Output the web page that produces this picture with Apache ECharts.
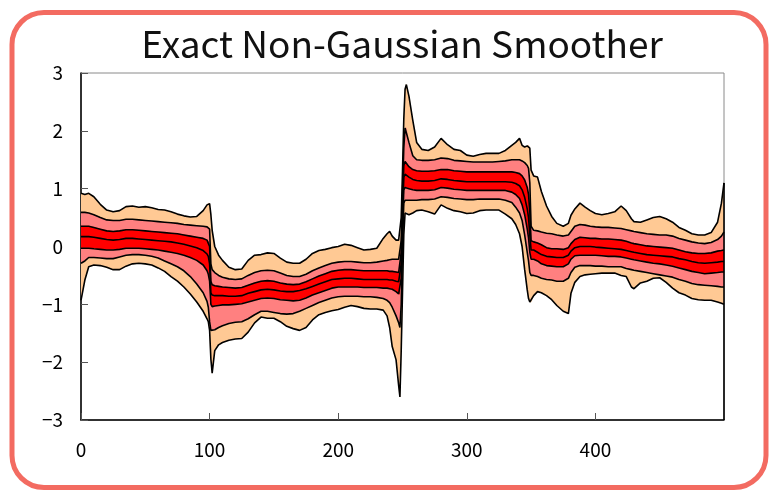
<!DOCTYPE html>
<html><head><meta charset="utf-8">
<script src="https://cdn.jsdelivr.net/npm/echarts@6/dist/echarts.min.js"></script>
<style>html,body{margin:0;padding:0;background:#fff}#c{width:770px;height:492px}</style>
</head><body><div id="c"></div>
<script>
const chartTitle = 'Exact Non-Gaussian Smoother';
const xTicks = [0, 100, 200, 300, 400, 500];
const yTicks = [-3, -2, -1, 0, 1, 2, 3];

const xs = [
  0,3,6,10,15,20,25,30,35,40,
  45,50,55,60,65,70,75,80,85,90,
  95,98,99,100,101,102,104,107,110,115,
  120,125,130,135,140,145,150,155,160,165,
  170,175,180,185,190,195,200,205,210,215,
  220,225,230,235,238,240,242,245,247,248,
  249,250,251,252,253,255,258,261,265,270,
  275,280,285,290,295,300,305,310,315,320,
  325,330,335,338,341,343,345,347,348,349,
  350,352,355,358,362,366,370,375,379,381,
  384,388,392,396,400,405,410,415,420,424,
  428,430,435,440,445,450,455,460,465,470,
  475,480,485,490,495,498,500];

const outerTop = [
  0.92,0.90,0.92,0.86,0.73,0.63,0.60,0.62,0.69,0.70,
  0.68,0.69,0.67,0.64,0.63,0.60,0.56,0.53,0.51,0.52,
  0.62,0.72,0.75,0.74,0.55,0.28,0.00,-0.15,-0.24,-0.36,
  -0.40,-0.39,-0.24,-0.15,-0.14,-0.11,-0.12,-0.20,-0.27,-0.29,
  -0.29,-0.22,-0.12,-0.07,-0.05,-0.02,0.00,0.04,0.02,-0.02,
  -0.06,-0.05,-0.03,0.14,0.22,0.26,0.18,0.11,0.11,0.12,
  0.50,1.30,2.20,2.72,2.80,2.60,2.18,1.80,1.68,1.66,
  1.72,1.87,1.76,1.68,1.66,1.58,1.56,1.59,1.61,1.61,
  1.61,1.66,1.75,1.80,1.87,1.75,1.72,1.74,1.75,1.70,
  1.32,1.22,1.20,0.95,0.70,0.52,0.40,0.35,0.40,0.54,
  0.65,0.75,0.68,0.62,0.57,0.55,0.57,0.60,0.70,0.62,
  0.48,0.43,0.42,0.46,0.50,0.52,0.48,0.42,0.33,0.28,
  0.22,0.20,0.20,0.24,0.42,0.75,1.10];

const midTop = [
  0.59,0.59,0.58,0.55,0.50,0.46,0.45,0.45,0.47,0.47,
  0.46,0.45,0.44,0.43,0.42,0.41,0.40,0.38,0.37,0.36,
  0.35,0.34,0.34,0.30,-0.30,-0.40,-0.45,-0.50,-0.53,-0.56,
  -0.57,-0.56,-0.50,-0.45,-0.42,-0.41,-0.42,-0.46,-0.50,-0.52,
  -0.52,-0.48,-0.42,-0.37,-0.33,-0.29,-0.27,-0.26,-0.26,-0.27,
  -0.28,-0.28,-0.27,-0.25,-0.24,-0.23,-0.22,-0.22,-0.22,-0.22,
  0.10,0.90,1.70,2.05,2.05,1.80,1.57,1.50,1.49,1.49,
  1.50,1.53,1.52,1.49,1.48,1.47,1.46,1.46,1.46,1.46,
  1.47,1.48,1.50,1.50,1.50,1.48,1.45,1.40,1.35,1.10,
  0.35,0.28,0.27,0.25,0.23,0.22,0.20,0.18,0.20,0.26,
  0.35,0.38,0.37,0.35,0.34,0.33,0.33,0.32,0.31,0.29,
  0.27,0.26,0.24,0.22,0.21,0.20,0.20,0.18,0.14,0.11,
  0.08,0.06,0.05,0.07,0.12,0.18,0.25];

const innerTop = [
  0.35,0.35,0.35,0.33,0.30,0.27,0.26,0.27,0.29,0.29,
  0.28,0.27,0.26,0.25,0.24,0.23,0.22,0.20,0.18,0.16,
  0.14,0.11,0.09,0.00,-0.60,-0.66,-0.68,-0.69,-0.70,-0.71,
  -0.72,-0.71,-0.67,-0.63,-0.60,-0.59,-0.60,-0.63,-0.65,-0.66,
  -0.65,-0.61,-0.56,-0.51,-0.47,-0.43,-0.41,-0.40,-0.40,-0.41,
  -0.42,-0.42,-0.42,-0.42,-0.42,-0.43,-0.43,-0.44,-0.45,-0.45,
  -0.10,0.70,1.40,1.47,1.45,1.38,1.33,1.31,1.30,1.30,
  1.31,1.33,1.33,1.31,1.30,1.29,1.29,1.29,1.29,1.29,
  1.29,1.29,1.29,1.28,1.26,1.22,1.15,1.02,0.90,0.60,
  0.10,0.08,0.06,0.03,-0.02,-0.04,-0.04,-0.05,-0.02,0.05,
  0.12,0.16,0.15,0.14,0.14,0.13,0.13,0.12,0.11,0.09,
  0.06,0.05,0.03,0.01,0.00,-0.01,-0.02,-0.03,-0.06,-0.09,
  -0.11,-0.12,-0.12,-0.11,-0.08,-0.07,-0.06];

const centre = [
  0.17,0.17,0.17,0.16,0.14,0.12,0.11,0.12,0.14,0.14,
  0.13,0.12,0.11,0.10,0.09,0.08,0.06,0.04,0.01,-0.02,
  -0.07,-0.13,-0.17,-0.30,-0.80,-0.84,-0.85,-0.85,-0.85,-0.86,
  -0.86,-0.85,-0.81,-0.78,-0.75,-0.74,-0.75,-0.77,-0.78,-0.78,
  -0.76,-0.73,-0.69,-0.65,-0.61,-0.57,-0.56,-0.55,-0.55,-0.56,
  -0.57,-0.57,-0.57,-0.57,-0.57,-0.58,-0.58,-0.60,-0.61,-0.62,
  -0.30,0.50,1.20,1.25,1.24,1.20,1.16,1.14,1.13,1.13,
  1.14,1.17,1.16,1.14,1.13,1.12,1.12,1.12,1.12,1.12,
  1.12,1.12,1.11,1.09,1.05,0.98,0.85,0.65,0.50,0.20,
  -0.06,-0.06,-0.10,-0.14,-0.17,-0.18,-0.19,-0.19,-0.15,-0.08,
  -0.02,0.00,0.00,0.00,-0.01,-0.02,-0.03,-0.04,-0.05,-0.07,
  -0.09,-0.10,-0.12,-0.14,-0.15,-0.16,-0.17,-0.18,-0.21,-0.23,
  -0.26,-0.28,-0.29,-0.28,-0.27,-0.26,-0.26];

const innerBottom = [
  -0.03,-0.03,-0.03,-0.04,-0.05,-0.06,-0.06,-0.05,-0.03,-0.03,
  -0.03,-0.04,-0.05,-0.06,-0.08,-0.10,-0.12,-0.15,-0.19,-0.24,
  -0.32,-0.42,-0.48,-0.60,-1.00,-1.04,-1.03,-1.02,-1.01,-1.01,
  -1.00,-0.99,-0.96,-0.93,-0.90,-0.89,-0.90,-0.92,-0.93,-0.94,
  -0.93,-0.89,-0.84,-0.80,-0.76,-0.72,-0.70,-0.70,-0.70,-0.70,
  -0.71,-0.71,-0.71,-0.72,-0.72,-0.73,-0.74,-0.78,-0.82,-0.85,
  -0.55,0.30,0.98,1.02,1.02,1.00,0.98,0.97,0.97,0.97,
  0.98,1.02,1.01,0.99,0.98,0.97,0.97,0.97,0.97,0.97,
  0.97,0.97,0.94,0.90,0.83,0.72,0.55,0.30,0.15,-0.10,
  -0.22,-0.22,-0.25,-0.30,-0.33,-0.34,-0.35,-0.35,-0.30,-0.22,
  -0.16,-0.15,-0.15,-0.15,-0.15,-0.16,-0.17,-0.17,-0.18,-0.20,
  -0.22,-0.23,-0.25,-0.27,-0.29,-0.30,-0.32,-0.34,-0.37,-0.40,
  -0.43,-0.45,-0.47,-0.46,-0.45,-0.44,-0.44];

const midBottom = [
  -0.29,-0.25,-0.19,-0.19,-0.20,-0.21,-0.21,-0.18,-0.15,-0.14,
  -0.14,-0.15,-0.17,-0.20,-0.25,-0.30,-0.35,-0.42,-0.52,-0.65,
  -0.80,-0.95,-1.05,-1.30,-1.45,-1.47,-1.44,-1.40,-1.37,-1.33,
  -1.31,-1.30,-1.25,-1.18,-1.12,-1.12,-1.14,-1.16,-1.17,-1.16,
  -1.12,-1.07,-1.02,-0.97,-0.93,-0.89,-0.87,-0.86,-0.86,-0.86,
  -0.87,-0.87,-0.88,-0.90,-0.93,-0.97,-1.05,-1.20,-1.32,-1.40,
  -1.00,0.00,0.75,0.80,0.80,0.80,0.80,0.80,0.81,0.81,
  0.82,0.86,0.85,0.83,0.82,0.81,0.81,0.82,0.82,0.82,
  0.82,0.80,0.76,0.68,0.58,0.45,0.20,-0.10,-0.25,-0.45,
  -0.50,-0.50,-0.52,-0.55,-0.57,-0.58,-0.60,-0.60,-0.55,-0.45,
  -0.36,-0.33,-0.33,-0.33,-0.34,-0.34,-0.35,-0.35,-0.35,-0.38,
  -0.40,-0.41,-0.43,-0.45,-0.47,-0.49,-0.51,-0.53,-0.57,-0.60,
  -0.64,-0.66,-0.67,-0.68,-0.69,-0.70,-0.70];

const outerBottom = [
  -0.93,-0.58,-0.35,-0.32,-0.33,-0.36,-0.40,-0.40,-0.34,-0.30,
  -0.29,-0.30,-0.32,-0.37,-0.43,-0.52,-0.60,-0.70,-0.82,-0.96,
  -1.12,-1.25,-1.30,-1.45,-1.95,-2.19,-1.80,-1.70,-1.66,-1.62,
  -1.60,-1.59,-1.48,-1.32,-1.22,-1.24,-1.24,-1.30,-1.38,-1.42,
  -1.45,-1.40,-1.27,-1.18,-1.14,-1.11,-1.09,-1.05,-1.02,-1.04,
  -1.07,-1.08,-1.08,-1.10,-1.20,-1.40,-1.73,-1.96,-2.40,-2.60,
  -1.80,-0.80,0.20,0.58,0.60,0.55,0.58,0.62,0.63,0.60,
  0.56,0.72,0.66,0.62,0.60,0.57,0.58,0.62,0.63,0.63,
  0.63,0.56,0.48,0.38,0.22,0.00,-0.40,-0.75,-0.90,-0.96,
  -0.96,-0.85,-0.78,-0.80,-0.85,-0.92,-1.02,-1.12,-1.16,-0.81,
  -0.62,-0.52,-0.49,-0.48,-0.47,-0.46,-0.46,-0.46,-0.50,-0.52,
  -0.70,-0.73,-0.63,-0.60,-0.55,-0.54,-0.62,-0.72,-0.80,-0.84,
  -0.90,-0.92,-0.93,-0.93,-0.96,-0.98,-1.00];

const ORANGE = '#ffc994', PINK = '#ff8080', RED = '#ff0000';
const FONT = '"Noto Sans CJK JP", "Noto Sans", sans-serif';

const pairs = arr => xs.map((x, i) => [x, arr[i]]);
const lastX = xs[xs.length - 1];

const bandLayers = [
  [outerTop, midTop, ORANGE],
  [midTop, innerTop, PINK],
  [innerTop, centre, RED],
  [centre, innerBottom, RED],
  [innerBottom, midBottom, PINK],
  [midBottom, outerBottom, ORANGE]
];

const series = [];
bandLayers.forEach(([hi, lo, col]) => series.push({
  type: 'custom', silent: true, z: 1, clip: true,
  data: [[xs[0], hi[0]]],
  renderItem: (params, api) => {
    const pts = [];
    for (let i = 0; i < xs.length; i++) pts.push(api.coord([xs[i], hi[i]]));
    for (let i = xs.length - 1; i >= 0; i--) pts.push(api.coord([xs[i], lo[i]]));
    return { type: 'polygon', shape: { points: pts }, style: { fill: col, stroke: col, lineWidth: 0.5 } };
  }
}));
[outerTop, midTop, innerTop, centre, innerBottom, midBottom, outerBottom].forEach(arr => series.push({
  type: 'line', data: pairs(arr), symbol: 'none',
  lineStyle: { color: '#000', width: 1.6 }, silent: true, z: 3
}));
// the right frame edge below the last outer-top value is drawn black in the reference
series.push({
  type: 'line', data: [[lastX, outerTop[outerTop.length - 1]], [lastX, yTicks[0]]], symbol: 'none',
  lineStyle: { color: '#000', width: 1.6 }, silent: true, z: 3
});

const chart = echarts.init(document.getElementById('c'), null, { renderer: 'canvas' });
chart.setOption({
  animation: false,
  backgroundColor: '#fff',
  grid: { left: 81, right: 46, top: 73, bottom: 72, show: true, borderColor: '#8a8a8a', borderWidth: 1, backgroundColor: 'transparent' },
  xAxis: {
    type: 'value', min: xTicks[0], max: xTicks[xTicks.length - 1], interval: 100,
    axisLine: { show: true, onZero: false, lineStyle: { color: '#000', width: 1.5 } },
    axisTick: { show: true, inside: true, length: 7, lineStyle: { color: '#555' } },
    axisLabel: { fontSize: 19, color: '#000', margin: 20, fontFamily: FONT, showMaxLabel: false,
      formatter: v => (v === xTicks[xTicks.length - 1] ? '' : String(v)) },
    splitLine: { show: false }
  },
  yAxis: {
    type: 'value', min: yTicks[0], max: yTicks[yTicks.length - 1], interval: 1,
    axisLine: { show: true, onZero: false, lineStyle: { color: '#000', width: 1.5 } },
    axisTick: { show: true, inside: true, length: 7, lineStyle: { color: '#555' } },
    axisLabel: { fontSize: 19, color: '#000', margin: 18, fontFamily: FONT,
      formatter: v => String(v).replace('-', '\u2212') },
    splitLine: { show: false }
  },
  graphic: [
    { type: 'rect', shape: { x: 12, y: 12.5, width: 754, height: 475, r: 32 },
      style: { fill: 'none', stroke: '#f36b61', lineWidth: 5 }, z: 10, silent: true },
    { type: 'text', x: 402, y: 44, z: 10, silent: true,
      style: { text: chartTitle, fill: '#111', font: '37px ' + FONT, textAlign: 'center', textVerticalAlign: 'middle' } }
  ],
  series: series
});
</script>
</body></html>
